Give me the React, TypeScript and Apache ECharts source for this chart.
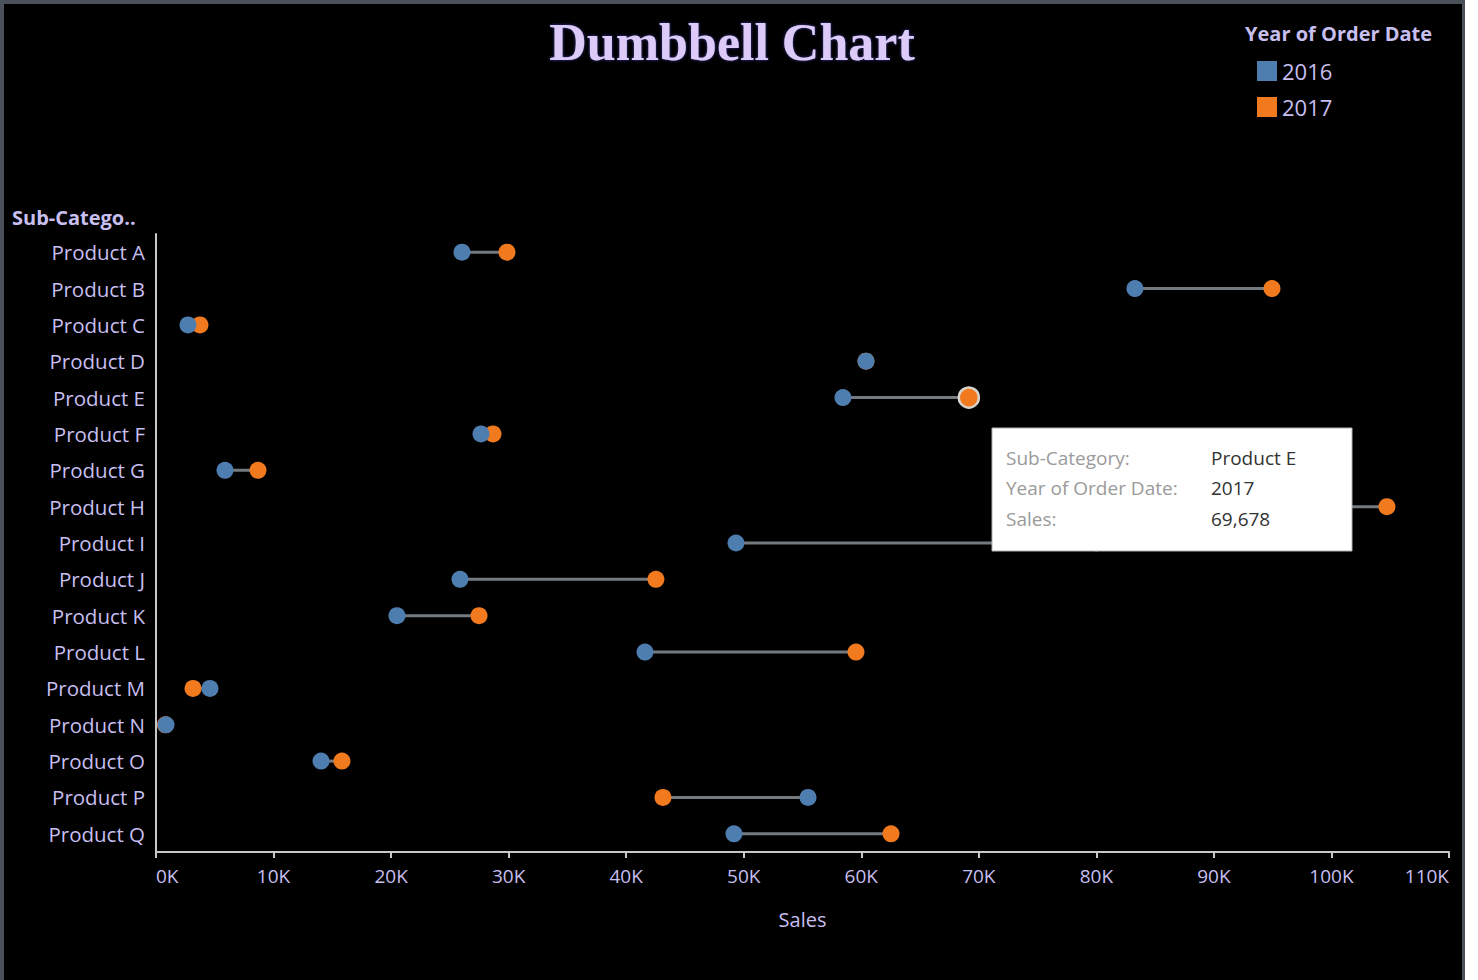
import React, { useEffect, useRef } from "react";
import * as echarts from "echarts";

const categories = [
  "Product A", "Product B", "Product C", "Product D", "Product E", "Product F",
  "Product G", "Product H", "Product I", "Product J", "Product K", "Product L",
  "Product M", "Product N", "Product O", "Product P", "Product Q",
];
const sales2016 = [
  26030, 83280, 2720, 60400, 58440, 27650, 5870, 92000, 49340, 25860, 20500,
  41600, 4590, 850, 14040, 55470, 49170,
];
const sales2017 = [
  29860, 94940, 3740, 60400, 69150, 28670, 8680, 104720, 80000, 42530, 27480,
  59550, 3150, 800, 15820, 43130, 62530,
];
const xTicks = { min: 0, max: 110000, interval: 10000 };
const tooltipRows = [
  ["Sub-Category:", "Product E"],
  ["Year of Order Date:", "2017"],
  ["Sales:", "69,678"],
];

const BLUE = "#4e7db0";
const ORANGE = "#f27a1e";
const TEXT = "#c7bff0";
const FONT = "'Open Sans', 'Noto Sans', sans-serif";

export default function App() {
  const ref = useRef<HTMLDivElement>(null);
  useEffect(() => {
    const chart = echarts.init(ref.current!, null, { renderer: "svg" });
    const hiIdx = 4;
    const tipChildren: any[] = [
      {
        type: "rect",
        shape: { x: 0, y: 0, width: 360, height: 123 },
        style: { fill: "#ffffff", stroke: "#b0b0b0", lineWidth: 1 },
        z: 100,
      },
    ];
    tooltipRows.forEach((r, i) => {
      tipChildren.push({ type: "text", x: 14, y: 20 + i * 30.5, style: { text: r[0], fill: "#9a9a9a", font: `19px ${FONT}` }, z: 101 });
      tipChildren.push({ type: "text", x: 219, y: 20 + i * 30.5, style: { text: r[1], fill: "#333333", font: `19px ${FONT}` }, z: 101 });
    });
    chart.setOption({
      animation: false,
      backgroundColor: "#000",
      grid: { left: 156, right: 29, top: 234, bottom: 128 },
      legend: {
        orient: "vertical",
        left: 1252,
        top: 55,
        itemWidth: 20,
        itemHeight: 20,
        itemGap: 14,
        icon: "rect",
        data: ["2016", "2017"],
        textStyle: { color: TEXT, fontSize: 22, fontFamily: FONT },
      },
      xAxis: {
        type: "value",
        min: xTicks.min,
        max: xTicks.max,
        interval: xTicks.interval,
        name: "Sales",
        nameLocation: "middle",
        nameGap: 57,
        nameTextStyle: { color: TEXT, fontSize: 20, fontFamily: FONT },
        axisLine: { show: true, lineStyle: { color: "#c8c8c8", width: 2 } },
        axisTick: { show: true, length: 6, lineStyle: { color: "#c8c8c8", width: 2 } },
        splitLine: { show: false },
        axisLabel: {
          color: TEXT,
          fontSize: 19,
          fontFamily: FONT,
          margin: 14,
          alignMinLabel: "left",
          alignMaxLabel: "right",
          formatter: (v: number) => `${Math.round(v / 1000)}K`,
        },
      },
      yAxis: {
        type: "category",
        data: categories,
        inverse: true,
        axisLine: { show: true, lineStyle: { color: "#c8c8c8", width: 2 } },
        axisTick: { show: false },
        axisLabel: { color: TEXT, fontSize: 20.5, fontFamily: FONT, margin: 11 },
      },
      series: [
        {
          type: "custom",
          name: "bar",
          renderItem: (params: any, api: any) => {
            const a = api.coord([api.value(0), api.value(2)]);
            const b = api.coord([api.value(1), api.value(2)]);
            return {
              type: "line",
              shape: { x1: a[0], y1: a[1], x2: b[0], y2: b[1] },
              style: { stroke: "#737a80", lineWidth: 3 },
            };
          },
          encode: { x: [0, 1], y: 2 },
          data: categories.map((c, i) => [sales2016[i], sales2017[i], i]),
          z: 1,
        },
        {
          type: "scatter",
          name: "2017",
          symbolSize: 17,
          itemStyle: { color: ORANGE, opacity: 1 },
          data: sales2017.map((v, i) =>
            i === hiIdx
              ? { value: [v, i], symbolSize: 20, itemStyle: { borderColor: "#d8d4cc", borderWidth: 2.5 } }
              : [v, i]
          ),
          z: 2,
        },
        {
          type: "scatter",
          name: "2016",
          symbolSize: 17,
          itemStyle: { color: BLUE, opacity: 1 },
          data: sales2016.map((v, i) => [v, i]),
          z: 3,
        },
      ],
      graphic: [
        { type: "rect", left: 0, top: 0, shape: { width: 1478, height: 4 }, style: { fill: "#4a5158" }, z: 50 },
        { type: "rect", left: 0, top: 0, shape: { width: 4, height: 980 }, style: { fill: "#4a5158" }, z: 50 },
        { type: "rect", left: 1462, top: 0, shape: { width: 3, height: 980 }, style: { fill: "#4a5158" }, z: 50 },
        { type: "rect", left: 1465, top: 0, shape: { width: 13, height: 980 }, style: { fill: "#ffffff" }, z: 50 },
        {
          type: "text",
          x: 732,
          y: 16,
          style: {
            text: "Dumbbell Chart",
            fill: "#dccbf8",
            font: "bold 52px 'Liberation Serif', serif",
            textAlign: "center",
            textShadowColor: "#3a3aa0",
            textShadowBlur: 3,
          },
          z: 60,
        },
        {
          type: "text",
          x: 1245,
          y: 23,
          style: { text: "Year of Order Date", fill: TEXT, font: `bold 20px ${FONT}` },
          z: 60,
        },
        {
          type: "text",
          x: 12,
          y: 207,
          style: { text: "Sub-Catego..", fill: TEXT, font: `bold 20px ${FONT}` },
          z: 60,
        },
        { type: "group", x: 992, y: 428, z: 100, children: tipChildren },
      ],
    });
    return () => chart.dispose();
  }, []);
  return (
    <div style={{ position: "fixed", left: 0, top: 0, width: 1478, height: 980, background: "#fff" }}>
      <div ref={ref} style={{ width: 1478, height: 980 }} />
    </div>
  );
}
